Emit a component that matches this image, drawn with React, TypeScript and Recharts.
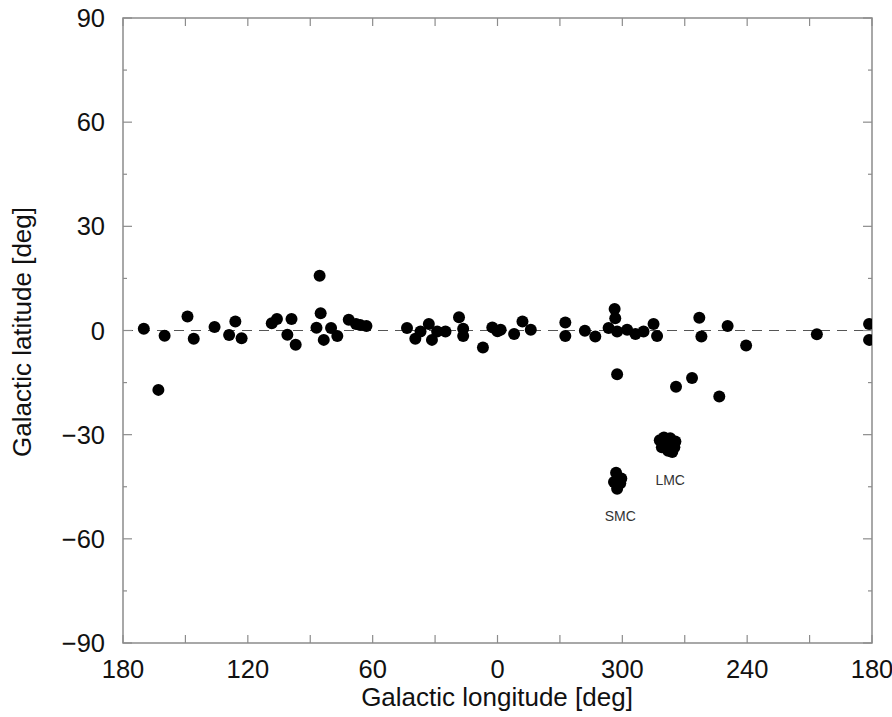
import { ScatterChart, Scatter, XAxis, YAxis, ReferenceLine, ReferenceArea, ReferenceDot } from 'recharts';

// galactic longitude (0-360) and latitude of the sources
const diskLon = [
  170, 160, 163, 149, 146, 136, 129, 126, 123, 108.5, 106, 99, 101, 97,
  85.5, 85, 87, 83.5, 80, 77, 71.5, 68, 66, 63,
  43.5, 39.5, 37, 33, 31.5, 29, 25, 18.5, 16.5, 16.5, 7, 2.5, 0, 358.5,
  352, 348, 344, 327.4, 327.4, 318, 313, 303.7, 303.4, 306.6, 302.5, 297.7,
  293.7, 289.8, 285, 283.3, 302.5, 274.2, 266.5, 253.4, 263, 262, 249.4,
  240.5, 206.5, 181.4, 181.4,
];
const diskLat = [
  0.5, -1.5, -17.1, 4.0, -2.4, 1.0, -1.3, 2.6, -2.2, 2.1, 3.3, 3.3, -1.2, -4.1,
  15.8, 5.0, 0.8, -2.7, 0.7, -1.6, 3.1, 1.9, 1.6, 1.3,
  0.7, -2.4, -0.3, 1.9, -2.7, -0.3, -0.3, 3.8, 0.5, -1.6, -4.9, 0.9, -0.2, 0.2,
  -1.0, 2.6, 0.2, 2.3, -1.6, -0.1, -1.7, 6.2, 3.5, 0.7, -0.3, 0.2,
  -1.0, -0.3, 1.9, -1.6, -12.6, -16.2, -13.7, -19.0, 3.7, -1.7, 1.3,
  -4.3, -1.1, 1.9, -2.7,
];
const lmcLon = [282, 280, 277, 274.5, 281, 278, 275, 279, 276];
const lmcLat = [-31.6, -30.8, -31, -32, -33.6, -34.6, -33.6, -32.4, -35];
const smcLon = [303, 302, 304, 301, 302.5, 300.5];
const smcLat = [-41, -42.6, -43.6, -44, -45.6, -42.6];

const xTicks = [180, 150, 120, 90, 60, 30, 0, -30, -60, -90, -120, -150, -180];
const yTicks = [90, 75, 60, 45, 30, 15, 0, -15, -30, -45, -60, -75, -90];

const cloudNames = ['LMC', 'SMC'];
const cloudLabelLon = [277, 301];
const cloudLabelLat = [-43, -53.4];

const FONT = '"Liberation Sans", Arial, sans-serif';
const FRAME = '#8c8c8c';
const PLOT_TOP = 18;
const PLOT_RIGHT = 872;

// plot runs 180 -> 0 -> 180 left to right
const toX = (l: number) => (l > 180 ? l - 360 : l);
const lonLabel = (v: number) => String(v < 0 ? v + 360 : v);
const latLabel = (v: number) => (v < 0 ? '\u2212' + Math.abs(v) : String(v));

const toRows = (lon: number[], lat: number[]) => lon.map((l, i) => ({ x: toX(l), y: lat[i] }));
const points = [
  ...toRows(diskLon, diskLat),
  ...toRows(lmcLon, lmcLat),
  ...toRows(smcLon, smcLat),
];

const XTick = ({ x, y, payload }: any) => {
  const v = payload.value;
  return (
    <g>
      <line x1={x} x2={x} y1={y} y2={y - 8} stroke={FRAME} strokeWidth={1.2} />
      <line x1={x} x2={x} y1={PLOT_TOP} y2={PLOT_TOP + 8} stroke={FRAME} strokeWidth={1.2} />
      {v % 60 === 0 && (
        <text x={x} y={y + 35} textAnchor="middle" fontSize={25.5} fill="#111" fontFamily={FONT}>
          {lonLabel(v)}
        </text>
      )}
    </g>
  );
};

const YTick = ({ x, y, payload }: any) => {
  const v = payload.value;
  const major = v % 30 === 0;
  const len = major ? 9 : 4;
  return (
    <g>
      <line x1={x} x2={x + len} y1={y} y2={y} stroke={FRAME} strokeWidth={1.2} />
      <line x1={PLOT_RIGHT} x2={PLOT_RIGHT - len} y1={y} y2={y} stroke={FRAME} strokeWidth={1.2} />
      {major && (
        <text x={x - 18} y={y + 9} textAnchor="end" fontSize={25.5} fill="#111" fontFamily={FONT}>
          {latLabel(v)}
        </text>
      )}
    </g>
  );
};

const Dot = ({ cx, cy }: any) => <circle cx={cx} cy={cy} r={6} fill="#000" />;

const App = () => {
  return (
    <div style={{ position: 'absolute', left: 0, top: 0, width: 892, height: 717, background: '#fff' }}>
      <ScatterChart width={892} height={717} margin={{ top: PLOT_TOP, right: 20, bottom: 0, left: 0 }}>
        <XAxis
          type="number"
          dataKey="x"
          domain={[-180, 180]}
          reversed
          allowDataOverflow
          ticks={xTicks}
          interval={0}
          height={74}
          axisLine={false}
          tickLine={false}
          tickSize={0}
          tickMargin={0}
          tick={<XTick />}
          label={() => (
            <text x={497} y={706} textAnchor="middle" fontSize={26} fill="#111" fontFamily={FONT}>
              Galactic longitude [deg]
            </text>
          )}
        />
        <YAxis
          type="number"
          dataKey="y"
          domain={[-90, 90]}
          allowDataOverflow
          ticks={yTicks}
          interval={0}
          width={123}
          axisLine={false}
          tickLine={false}
          tickSize={0}
          tickMargin={0}
          tick={<YTick />}
          label={() => (
            <text
              x={0}
              y={0}
              transform="translate(31 332) rotate(-90)"
              textAnchor="middle"
              fontSize={26}
              fill="#111"
              fontFamily={FONT}
            >
              Galactic latitude [deg]
            </text>
          )}
        />
        <ReferenceArea x1={-180} x2={180} y1={-90} y2={90} fill="none" stroke={FRAME} strokeWidth={1.5} />
        <ReferenceLine y={0} stroke="#555" strokeDasharray="10 7" strokeWidth={1} />
        <Scatter data={points} fill="#000" shape={<Dot />} isAnimationActive={false} />
        {cloudNames.map((name, i) => (
          <ReferenceDot
            key={name}
            x={toX(cloudLabelLon[i])}
            y={cloudLabelLat[i]}
            r={0}
            stroke="none"
            label={{ value: name, position: 'center', fontSize: 14, fill: '#333', fontFamily: FONT }}
          />
        ))}
      </ScatterChart>
    </div>
  );
};

export default App;
